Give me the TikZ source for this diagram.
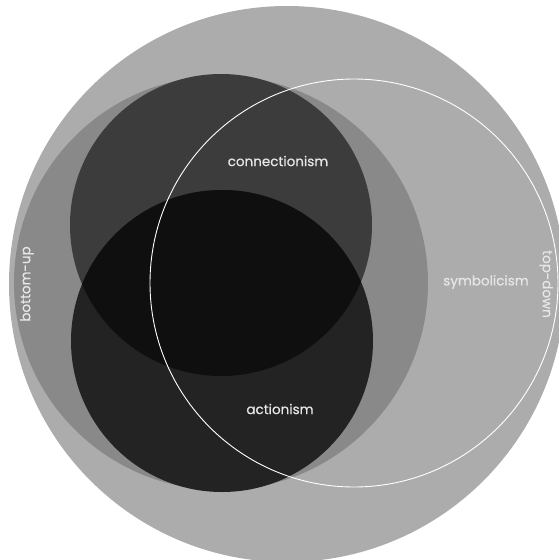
\documentclass[tikz,border=0pt]{standalone}
\usepackage{fontspec}
\setmainfont{Poppins}
\newfontfamily\labelfont{Poppins}[FakeBold=0.6]
\usepackage{tikz}
\definecolor{outergray}{HTML}{ACACAC}
\definecolor{midgray}{HTML}{898989}
\definecolor{conngray}{HTML}{3C3C3C}
\definecolor{actgray}{HTML}{232323}
\definecolor{coregray}{HTML}{0F0F0F}
\definecolor{textwhite}{HTML}{E6E6E6}
\tikzstyle{fieldtext} = [text=textwhite, inner sep=0pt,
font=\labelfont\fontsize{13.5}{15}\selectfont]
\tikzstyle{symring} = [draw=white, line width=0.9pt]

\begin{document}
\begin{tikzpicture}[x=1pt, y=-1pt]
\useasboundingbox (0,0) rectangle (559,560);

\coordinate (outer) at (287,284);
\coordinate (bottomup) at (221,283);
\coordinate (conn) at (221,225);
\coordinate (act) at (222,341);
\coordinate (symb) at (354,283);

\fill [outergray] (outer) circle (278pt);
\fill [midgray] (bottomup) circle (207pt);
\fill [conngray] (conn) circle (151pt);
\fill [actgray] (act) circle (151pt);
% overlap of connectionism and actionism
\begin{scope}
\clip (conn) circle (151pt);
\fill [coregray] (act) circle (151pt);
\end{scope}
\draw [symring] (symb) circle (204pt);

\node (connlabel) [fieldtext] at (278,161) {connectionism};
\node (actlabel) [fieldtext] at (280,409) {actionism};
\node (symblabel) [fieldtext] at (486,282) {symbolicism};
\node (bulabel) [fieldtext, rotate=90] at (27,284) {bottom-up};
\node (tdlabel) [fieldtext, rotate=-90] at (546,284) {top-down};

\end{tikzpicture}
\end{document}
